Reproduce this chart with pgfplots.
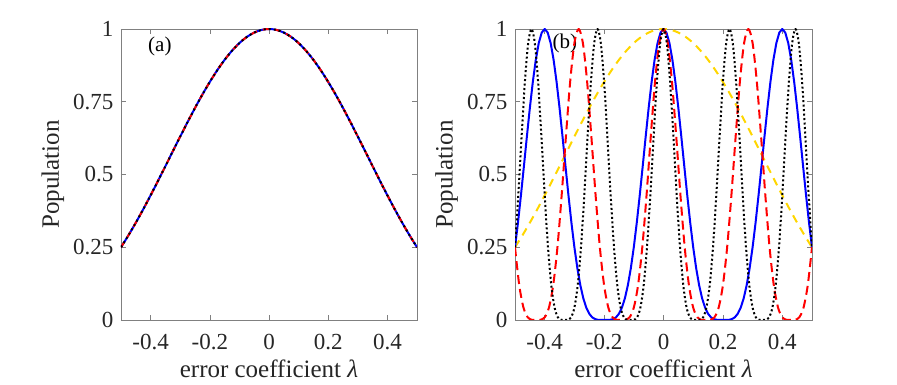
\documentclass[border=0pt]{standalone}
\usepackage{fontspec}
\setmainfont{Liberation Serif}
\usepackage{pgfplots}
\usepackage{pgfplotstable}
\pgfplotsset{compat=1.18}

\definecolor{myellow}{rgb}{1,0.84,0}

% population for the single error curve (panel a, and the yellow curve in b)
\pgfplotstableread{
x y
-0.5 0.25
-0.475 0.2908
-0.45 0.3343
-0.425 0.3803
-0.4 0.4284
-0.375 0.4780
-0.35 0.5285
-0.325 0.5795
-0.3 0.6303
-0.275 0.6802
-0.25 0.7286
-0.225 0.7748
-0.2 0.8181
-0.175 0.8581
-0.15 0.8940
-0.125 0.9253
-0.1 0.9517
-0.075 0.9726
-0.05 0.9877
-0.025 0.9969
0 1
0.025 0.9969
0.05 0.9877
0.075 0.9726
0.1 0.9517
0.125 0.9253
0.15 0.8940
0.175 0.8581
0.2 0.8181
0.225 0.7748
0.25 0.7286
0.275 0.6802
0.3 0.6303
0.325 0.5795
0.35 0.5285
0.375 0.4780
0.4 0.4284
0.425 0.3803
0.45 0.3343
0.475 0.2908
0.5 0.25
}\popone

\pgfplotstableread{
x y
-0.50 0.25
-0.49 0.3343
-0.48 0.4284
-0.47 0.5285
-0.46 0.6303
-0.45 0.7286
-0.44 0.8181
-0.43 0.8940
-0.42 0.9517
-0.41 0.9877
-0.40 1
-0.39 0.9877
-0.38 0.9517
-0.37 0.8940
-0.36 0.8181
-0.35 0.7286
-0.34 0.6303
-0.33 0.5285
-0.32 0.4284
-0.31 0.3343
-0.30 0.25
-0.29 0.1779
-0.28 0.1194
-0.27 0.0745
-0.26 0.0425
-0.25 0.0214
-0.24 0.0091
-0.23 0.0030
-0.22 0.0006
-0.21 0.0000
-0.20 0
-0.19 0.0000
-0.18 0.0006
-0.17 0.0030
-0.16 0.0091
-0.15 0.0214
-0.14 0.0425
-0.13 0.0745
-0.12 0.1194
-0.11 0.1779
-0.10 0.25
-0.09 0.3343
-0.08 0.4284
-0.07 0.5285
-0.06 0.6303
-0.05 0.7286
-0.04 0.8181
-0.03 0.8940
-0.02 0.9517
-0.01 0.9877
0 1
0.01 0.9877
0.02 0.9517
0.03 0.8940
0.04 0.8181
0.05 0.7286
0.06 0.6303
0.07 0.5285
0.08 0.4284
0.09 0.3343
0.10 0.25
0.11 0.1779
0.12 0.1194
0.13 0.0745
0.14 0.0425
0.15 0.0214
0.16 0.0091
0.17 0.0030
0.18 0.0006
0.19 0.0000
0.20 0
0.21 0.0000
0.22 0.0006
0.23 0.0030
0.24 0.0091
0.25 0.0214
0.26 0.0425
0.27 0.0745
0.28 0.1194
0.29 0.1779
0.30 0.25
0.31 0.3343
0.32 0.4284
0.33 0.5285
0.34 0.6303
0.35 0.7286
0.36 0.8181
0.37 0.8940
0.38 0.9517
0.39 0.9877
0.40 1
0.41 0.9877
0.42 0.9517
0.43 0.8940
0.44 0.8181
0.45 0.7286
0.46 0.6303
0.47 0.5285
0.48 0.4284
0.49 0.3343
0.50 0.25
}\popblue

\pgfplotstableread{
x y
-0.5 0.25
-0.4857 0.1194
-0.4714 0.0425
-0.4571 0.0091
-0.4429 0.0006
-0.4286 0
-0.4143 0.0006
-0.4 0.0091
-0.3857 0.0425
-0.3714 0.1194
-0.3571 0.25
-0.3429 0.4284
-0.3286 0.6303
-0.3143 0.8181
-0.3 0.9517
-0.2857 1
-0.2714 0.9517
-0.2571 0.8181
-0.2429 0.6303
-0.2286 0.4284
-0.2143 0.25
-0.2 0.1194
-0.1857 0.0425
-0.1714 0.0091
-0.1571 0.0006
-0.1429 0
-0.1286 0.0006
-0.1143 0.0091
-0.1 0.0425
-0.0857 0.1194
-0.0714 0.25
-0.0571 0.4284
-0.0429 0.6303
-0.0286 0.8181
-0.0143 0.9517
0 1
0.0143 0.9517
0.0286 0.8181
0.0429 0.6303
0.0571 0.4284
0.0714 0.25
0.0857 0.1194
0.1 0.0425
0.1143 0.0091
0.1286 0.0006
0.1429 0
0.1571 0.0006
0.1714 0.0091
0.1857 0.0425
0.2 0.1194
0.2143 0.25
0.2286 0.4284
0.2429 0.6303
0.2571 0.8181
0.2714 0.9517
0.2857 1
0.3 0.9517
0.3143 0.8181
0.3286 0.6303
0.3429 0.4284
0.3571 0.25
0.3714 0.1194
0.3857 0.0425
0.4 0.0091
0.4143 0.0006
0.4286 0
0.4429 0.0006
0.4571 0.0091
0.4714 0.0425
0.4857 0.1194
0.5 0.25
}\popred

\pgfplotstableread{
x y
-0.5 0.25
-0.4889 0.4284
-0.4778 0.6303
-0.4667 0.8181
-0.4556 0.9517
-0.4444 1
-0.4333 0.9517
-0.4222 0.8181
-0.4111 0.6303
-0.4 0.4284
-0.3889 0.25
-0.3778 0.1194
-0.3667 0.0425
-0.3556 0.0091
-0.3444 0.0006
-0.3333 0
-0.3222 0.0006
-0.3111 0.0091
-0.3 0.0425
-0.2889 0.1194
-0.2778 0.25
-0.2667 0.4284
-0.2556 0.6303
-0.2444 0.8181
-0.2333 0.9517
-0.2222 1
-0.2111 0.9517
-0.2 0.8181
-0.1889 0.6303
-0.1778 0.4284
-0.1667 0.25
-0.1556 0.1194
-0.1444 0.0425
-0.1333 0.0091
-0.1222 0.0006
-0.1111 0
-0.1 0.0006
-0.0889 0.0091
-0.0778 0.0425
-0.0667 0.1194
-0.0556 0.25
-0.0444 0.4284
-0.0333 0.6303
-0.0222 0.8181
-0.0111 0.9517
0 1
0.0111 0.9517
0.0222 0.8181
0.0333 0.6303
0.0444 0.4284
0.0556 0.25
0.0667 0.1194
0.0778 0.0425
0.0889 0.0091
0.1 0.0006
0.1111 0
0.1222 0.0006
0.1333 0.0091
0.1444 0.0425
0.1556 0.1194
0.1667 0.25
0.1778 0.4284
0.1889 0.6303
0.2 0.8181
0.2111 0.9517
0.2222 1
0.2333 0.9517
0.2444 0.8181
0.2556 0.6303
0.2667 0.4284
0.2778 0.25
0.2889 0.1194
0.3 0.0425
0.3111 0.0091
0.3222 0.0006
0.3333 0
0.3444 0.0006
0.3556 0.0091
0.3667 0.0425
0.3778 0.1194
0.3889 0.25
0.4 0.4284
0.4111 0.6303
0.4222 0.8181
0.4333 0.9517
0.4444 1
0.4556 0.9517
0.4667 0.8181
0.4778 0.6303
0.4889 0.4284
0.5 0.25
}\popblack

\pgfplotsset{panel/.style={
  width=296pt, height=291pt, scale only axis, anchor=south west,
  xmin=-0.5, xmax=0.5, ymin=0, ymax=1,
  xtick={-0.4,-0.2,0,0.2,0.4}, xticklabels={-0.4,-0.2,0,0.2,0.4},
  ytick={0,0.25,0.5,0.75,1}, yticklabels={0,0.25,0.5,0.75,1},
  tick align=inside, major tick length=5pt,
  axis line style={black!50}, tick style={black!50, line width=0.6pt},
  tick label style={font=\fontsize{23}{23}\selectfont, text=black!85},
  label style={font=\fontsize{25}{25}\selectfont, text=black!85},
  xlabel={error coefficient \textit{λ}}, ylabel={Population},
  x label style={at={(axis description cs:0.5,-0.199)}, anchor=base},
  y label style={at={(axis description cs:-0.23,0.5)}, anchor=center},
  xticklabel style={anchor=base, yshift=-30pt},
  yticklabel style={xshift=-4pt},
  every axis plot/.append style={line width=2pt},
}}

\begin{document}
\begin{tikzpicture}
\useasboundingbox (0,0) rectangle (897pt,385pt);

\begin{axis}[panel, at={(121pt,65pt)}]
  \addplot[blue, smooth] table {\popone};
  \addplot[red, smooth, dash pattern=on 6pt off 6pt] table {\popone};
  \addplot[black, smooth, dash pattern=on 2pt off 3pt] table {\popone};
  \node[anchor=west, font=\fontsize{21}{21}\selectfont] at (axis cs:-0.42,0.94) {(a)};
\end{axis}

\begin{axis}[panel, at={(515pt,65pt)}, width=297pt]
  \node[anchor=west, font=\fontsize{21}{21}\selectfont] at (axis cs:-0.385,0.95) {(b)};
  \addplot[myellow, smooth, dash pattern=on 8pt off 6pt] table {\popone};
  \addplot[blue] table {\popblue};
  \addplot[red, smooth, dash pattern=on 9pt off 5pt] table {\popred};
  \addplot[black, smooth, dash pattern=on 2pt off 2.5pt] table {\popblack};
\end{axis}
\end{tikzpicture}
\end{document}
